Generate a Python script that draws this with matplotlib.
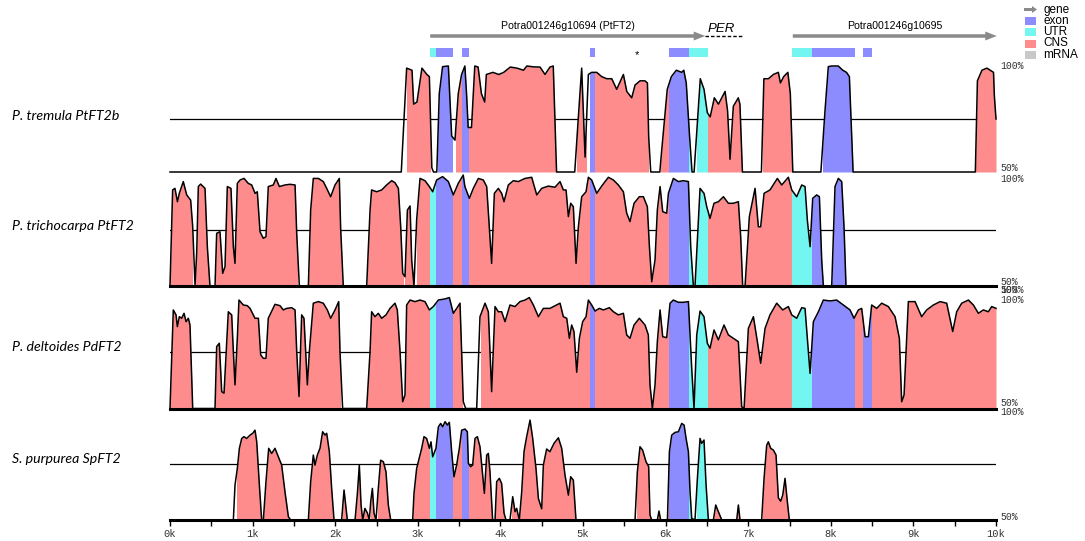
import numpy as np
import matplotlib.pyplot as plt
from matplotlib.patches import Rectangle, FancyArrow

W, H = 1085, 541

# gene model (kb)
exons = [(3.22, 3.425), (3.535, 3.62), (5.09, 5.14), (6.04, 6.28), (7.77, 8.29), (8.39, 8.50)]
utrs = [(3.15, 3.22), (6.28, 6.515), (7.53, 7.77)]
genes = [(3.15, 6.48, "Potra001246g10694 (PtFT2)"), (7.54, 10.01, "Potra001246g10695")]
per_span = (6.48, 6.93)
star_kb = 5.65

species = ["P. tremula PtFT2b", "P. trichocarpa PtFT2", "P. deltoides PdFT2", "S. purpurea SpFT2"]

# conservation profiles (kb, % identity)
tremula_profile = [
    (0.0, 50), (2.80, 50), (2.865, 99), (2.93, 98), (2.95, 82), (2.99, 83), (3.05, 99), (3.11, 96),
    (3.14, 95), (3.17, 52), (3.19, 50), (3.23, 50), (3.26, 87), (3.30, 99.7), (3.37, 100), (3.41, 67),
    (3.45, 65), (3.49, 87), (3.53, 96), (3.57, 100), (3.59, 87), (3.61, 71), (3.65, 71), (3.69, 100),
    (3.73, 99.5), (3.77, 87), (3.81, 83), (3.83, 96), (3.91, 97), (3.98, 96), (4.04, 97), (4.12, 99.5),
    (4.20, 99), (4.28, 98), (4.32, 100), (4.40, 99.6), (4.48, 99.5), (4.54, 96), (4.60, 99.5), (4.64, 100),
    (4.68, 50), (4.90, 50), (4.944, 76), (4.984, 99), (5.025, 57), (5.065, 96), (5.105, 97), (5.166, 97),
    (5.226, 95), (5.287, 94), (5.348, 94), (5.408, 89), (5.489, 96), (5.53, 88), (5.59, 85), (5.63, 91),
    (5.69, 93), (5.75, 93), (5.78, 92), (5.795, 67), (5.82, 50), (5.93, 50), (5.95, 59), (6.02, 89),
    (6.07, 95), (6.13, 98), (6.195, 97), (6.22, 98), (6.25, 92), (6.29, 67), (6.32, 50), (6.345, 50),
    (6.42, 94), (6.465, 89), (6.505, 78), (6.54, 76), (6.59, 85), (6.64, 82), (6.68, 85), (6.72, 88),
    (6.75, 79), (6.78, 56), (6.82, 81), (6.88, 85), (6.90, 82), (6.93, 50), (7.16, 50), (7.19, 94),
    (7.245, 94), (7.305, 96), (7.365, 97), (7.39, 92), (7.43, 95), (7.48, 97), (7.51, 87), (7.54, 50),
    (7.88, 50), (7.93, 79), (7.97, 99.7), (8.01, 100), (8.09, 100), (8.145, 98), (8.19, 97), (8.225, 95),
    (8.27, 50), (9.75, 50), (9.775, 93), (9.83, 98), (9.89, 99), (9.97, 97), (9.98, 86), (10.0, 75),
]
trichocarpa_profile = [
    (0.0, 50), (0.032, 92.5), (0.06, 93.2), (0.09, 87.3), (0.113, 91), (0.161, 96.2), (0.202, 90.3),
    (0.25, 88), (0.275, 76.2), (0.303, 50.4), (0.323, 64.5), (0.343, 94), (0.371, 95.1), (0.424, 93.2),
    (0.452, 67.4), (0.484, 50), (0.545, 50), (0.565, 73.3), (0.605, 74), (0.638, 55.6), (0.666, 58.5),
    (0.694, 94), (0.738, 93.2), (0.767, 67.4), (0.787, 60), (0.815, 95.4), (0.848, 96.9), (0.896, 97.6),
    (0.948, 95.4), (0.989, 94.7), (1.03, 91), (1.057, 91.7), (1.09, 74), (1.13, 71.1), (1.162, 71.8),
    (1.19, 94), (1.251, 94.7), (1.283, 97.6), (1.324, 94), (1.392, 94.7), (1.453, 95), (1.514, 94.7),
    (1.534, 73.3), (1.566, 50), (1.675, 50), (1.703, 83.6), (1.735, 97.6), (1.796, 97.6), (1.856, 96.2),
    (1.897, 93.2), (1.945, 89.5), (1.998, 94.7), (2.05, 97.6), (2.066, 75.5), (2.098, 50), (2.381, 50),
    (2.422, 83.6), (2.441, 92.5), (2.502, 91.7), (2.563, 92.5), (2.623, 94.7), (2.684, 96.6), (2.724, 95.7),
    (2.765, 93.2), (2.793, 76.2), (2.817, 55.6), (2.845, 54.1), (2.874, 83.6), (2.906, 85.4), (2.926, 61.5),
    (2.954, 50), (2.986, 79.2), (3.027, 97.6), (3.087, 96.6), (3.14, 94), (3.18, 91.7), (3.228, 96.9),
    (3.30, 98.4), (3.37, 96.2), (3.43, 90.3), (3.49, 95.4), (3.55, 99.1), (3.57, 94), (3.624, 88.8),
    (3.672, 93.2), (3.733, 97.6), (3.793, 96.9), (3.834, 94), (3.866, 76.2), (3.894, 60), (3.927, 91),
    (3.975, 93.2), (4.015, 91), (4.044, 87.3), (4.096, 94.7), (4.157, 96.6), (4.217, 96.2), (4.298, 97.6),
    (4.379, 98.1), (4.44, 90.3), (4.5, 93.2), (4.58, 94.2), (4.661, 93.7), (4.722, 96.2), (4.762, 92.5),
    (4.795, 92.5), (4.823, 80.7), (4.851, 86.6), (4.883, 85.1), (4.916, 60), (4.944, 76.2), (4.984, 89.5),
    (5.037, 91.7), (5.065, 98.1), (5.105, 96.9), (5.166, 91), (5.226, 94.2), (5.307, 98.1), (5.368, 96.9),
    (5.428, 94.7), (5.489, 91.7), (5.529, 82.2), (5.569, 78.5), (5.618, 86.6), (5.682, 89.5), (5.731, 89.5),
    (5.779, 85.1), (5.804, 67.4), (5.832, 51.9), (5.872, 61.5), (5.9, 83.6), (5.933, 94), (5.965, 82.9),
    (6.013, 82.2), (6.034, 91), (6.094, 97.6), (6.155, 96.2), (6.215, 96.6), (6.276, 96.2), (6.304, 67.4),
    (6.336, 50), (6.356, 50), (6.417, 93.2), (6.465, 91), (6.498, 85.1), (6.538, 79.9), (6.586, 86.6),
    (6.639, 87.3), (6.7, 89.5), (6.76, 86.6), (6.82, 86.6), (6.881, 87.3), (6.909, 71.8), (6.933, 50),
    (6.962, 50), (7.014, 80.7), (7.083, 93.2), (7.123, 76.2), (7.151, 76.2), (7.192, 91), (7.264, 92.5),
    (7.353, 97.6), (7.406, 94.7), (7.486, 98.1), (7.527, 92.5), (7.587, 89.5), (7.648, 94.7), (7.688, 94),
    (7.716, 79.2), (7.749, 67.4), (7.781, 88.8), (7.829, 90.3), (7.862, 89.5), (7.89, 61.5), (7.91, 50),
    (8.011, 50), (8.051, 94), (8.091, 97.6), (8.132, 96.2), (8.16, 76.2), (8.184, 50), (10.0, 50),
]
deltoides_profile = [
    (0.0, 50), (0.04, 93.8), (0.073, 91.6), (0.089, 86.4), (0.113, 90.8), (0.141, 90.1), (0.17, 92.3),
    (0.194, 88.6), (0.222, 90.1), (0.242, 87.1), (0.275, 50), (0.545, 50), (0.565, 77.5), (0.597, 79),
    (0.626, 57.5), (0.654, 56.8), (0.706, 93), (0.747, 91.6), (0.767, 75.3), (0.787, 60.5), (0.815, 81.2),
    (0.835, 98.2), (0.888, 96), (0.936, 95.7), (0.969, 94.5), (1.029, 90.1), (1.07, 90.1), (1.098, 73.8),
    (1.13, 72.3), (1.162, 72.3), (1.19, 90.1), (1.271, 96.3), (1.332, 95.7), (1.372, 93.8), (1.413, 94.5),
    (1.473, 94.8), (1.514, 93.8), (1.534, 75.3), (1.562, 55.3), (1.594, 91.6), (1.622, 90.1), (1.663, 60.5),
    (1.687, 75.3), (1.735, 96.8), (1.796, 97.5), (1.856, 96.8), (1.905, 93.8), (1.945, 90.1), (1.998, 93.8),
    (2.042, 97.5), (2.058, 75.3), (2.09, 50), (2.381, 50), (2.422, 75.3), (2.441, 93), (2.482, 90.8),
    (2.522, 92.3), (2.563, 90.1), (2.615, 91.6), (2.664, 94.5), (2.724, 96.8), (2.752, 93.8), (2.785, 75.3),
    (2.817, 53), (2.845, 56), (2.865, 96), (2.906, 98.2), (2.966, 97.5), (3.027, 98.2), (3.087, 97.5),
    (3.14, 93.8), (3.188, 95.3), (3.249, 98.2), (3.33, 98.7), (3.382, 99.3), (3.43, 92.3), (3.471, 94.5),
    (3.511, 96.8), (3.551, 53), (3.58, 50), (3.713, 50), (3.753, 90.8), (3.814, 96.8), (3.854, 93),
    (3.894, 57.5), (3.935, 95.3), (3.975, 93), (4.015, 93), (4.056, 88.6), (4.116, 96), (4.177, 95.3),
    (4.237, 97.5), (4.298, 98.2), (4.35, 99.3), (4.399, 96), (4.46, 90.8), (4.52, 94.5), (4.6, 94.5),
    (4.681, 96), (4.722, 96.8), (4.762, 90.8), (4.803, 90.1), (4.835, 81.2), (4.863, 87.1), (4.891, 84.2),
    (4.924, 66.1), (4.956, 81.2), (4.996, 88.6), (5.037, 90.8), (5.065, 98.2), (5.105, 96), (5.146, 93.3),
    (5.198, 94.5), (5.247, 93.8), (5.319, 94.8), (5.368, 93), (5.428, 91.6), (5.489, 92.3), (5.529, 82.7),
    (5.569, 81.2), (5.618, 87.1), (5.682, 90.1), (5.751, 87.1), (5.791, 82.7), (5.811, 60.5), (5.84, 50),
    (5.872, 60.5), (5.9, 79.7), (5.933, 93.8), (5.965, 81.9), (6.013, 81.5), (6.054, 96.8), (6.094, 98.2),
    (6.155, 97.2), (6.215, 97.2), (6.276, 97.5), (6.316, 67.9), (6.344, 50), (6.377, 82.7), (6.417, 93.3),
    (6.465, 90.8), (6.505, 79), (6.538, 76.8), (6.586, 84.9), (6.639, 80.5), (6.707, 87.1), (6.76, 82.7),
    (6.82, 81.2), (6.881, 79.7), (6.921, 50.8), (6.95, 50), (7.002, 85.6), (7.063, 90.8), (7.111, 79.7),
    (7.151, 70.1), (7.204, 85.6), (7.264, 91.6), (7.345, 96.8), (7.418, 93.8), (7.486, 95.3), (7.527, 91.6),
    (7.587, 90.1), (7.648, 94.8), (7.688, 94.5), (7.716, 81.2), (7.749, 65.6), (7.789, 88.6), (7.85, 93),
    (7.91, 98.2), (7.991, 97.8), (8.071, 98.2), (8.152, 96), (8.233, 93.8), (8.281, 90.1), (8.334, 93.8),
    (8.374, 94.5), (8.415, 81.9), (8.455, 81.9), (8.495, 96), (8.556, 94.5), (8.616, 96.8), (8.697, 95.3),
    (8.778, 90.8), (8.83, 81.2), (8.858, 53), (8.887, 56), (8.939, 97.5), (9.02, 97.5), (9.1, 90.8),
    (9.161, 93.8), (9.242, 96), (9.323, 97.5), (9.403, 96.8), (9.476, 84.2), (9.524, 93), (9.585, 96.8),
    (9.666, 98.2), (9.726, 96), (9.787, 92.3), (9.847, 93.8), (9.908, 93), (9.948, 95.3), (10.0, 94.5),
]
purpurea_profile = [
    (0.0, 50), (0.767, 50), (0.787, 65.6), (0.815, 73), (0.84, 82), (0.868, 86.4), (0.896, 87.2),
    (0.928, 86.4), (0.969, 87.9), (1.001, 88.7), (1.029, 90.1), (1.05, 84.9), (1.082, 65.6), (1.11, 50),
    (1.13, 50), (1.162, 67.1), (1.195, 82), (1.231, 79.7), (1.271, 82), (1.312, 78.2), (1.352, 74.5),
    (1.392, 62.6), (1.433, 51.5), (1.461, 50), (1.675, 50), (1.703, 67.1), (1.735, 79), (1.755, 74.5),
    (1.784, 79), (1.816, 82), (1.848, 89.4), (1.877, 87.9), (1.897, 88.7), (1.929, 80.5), (1.957, 64.1),
    (1.986, 50), (2.078, 50), (2.107, 63.4), (2.127, 56.7), (2.147, 50), (2.24, 50), (2.268, 61.5),
    (2.292, 74.5), (2.313, 56.7), (2.333, 50), (2.36, 55.2), (2.39, 53.1), (2.413, 50), (2.43, 58.2),
    (2.45, 64.1), (2.47, 53.1), (2.494, 50), (2.522, 64.1), (2.55, 76.7), (2.583, 76), (2.615, 71.5),
    (2.643, 56.7), (2.672, 50), (2.938, 50), (2.954, 61.9), (2.986, 73), (3.027, 79), (3.047, 82),
    (3.075, 87.2), (3.107, 86.4), (3.14, 82), (3.16, 84.9), (3.18, 78.2), (3.196, 79.7), (3.22, 82),
    (3.249, 91.6), (3.277, 93.1), (3.301, 91.6), (3.33, 93.9), (3.358, 92.4), (3.382, 93.6), (3.41, 80.5),
    (3.438, 69.3), (3.47, 74.5), (3.503, 82), (3.531, 90.1), (3.572, 90.6), (3.6, 89.4), (3.612, 75.3),
    (3.64, 73.8), (3.664, 74.5), (3.693, 86.4), (3.721, 87.2), (3.753, 82.7), (3.782, 71.5), (3.806, 61.9),
    (3.834, 79), (3.854, 79.7), (3.874, 71.5), (3.906, 50), (3.935, 50), (3.955, 67.1), (3.987, 68.6),
    (4.015, 66.3), (4.044, 53.1), (4.068, 50), (4.116, 50), (4.149, 60.4), (4.177, 53.7), (4.197, 55.2),
    (4.229, 50), (4.258, 62.6), (4.286, 80.5), (4.318, 87.2), (4.359, 94.6), (4.391, 86.4), (4.431, 73),
    (4.46, 59.6), (4.5, 55), (4.52, 74.5), (4.56, 81.7), (4.6, 80.5), (4.649, 84.2), (4.702, 86.7),
    (4.742, 82), (4.782, 70.1), (4.823, 61.1), (4.851, 69.3), (4.883, 67.8), (4.915, 50), (5.63, 50),
    (5.658, 71.5), (5.69, 82.7), (5.722, 81.2), (5.763, 76), (5.795, 73.8), (5.811, 52.2), (5.832, 50),
    (5.9, 50), (5.92, 54), (5.94, 50), (6.022, 50), (6.046, 80.5), (6.074, 87.9), (6.114, 89.1),
    (6.155, 89.4), (6.195, 93.1), (6.224, 92.4), (6.248, 86.4), (6.276, 80.5), (6.296, 62.6), (6.316, 50.7),
    (6.356, 50), (6.385, 68.6), (6.417, 86.4), (6.437, 84.2), (6.465, 85.7), (6.49, 65.6), (6.518, 50),
    (6.578, 50), (6.607, 56.7), (6.639, 53.7), (6.68, 50), (6.861, 50), (6.881, 56.7), (6.901, 50),
    (7.163, 50), (7.192, 68.6), (7.224, 83.4), (7.244, 84.9), (7.272, 82), (7.305, 81.2), (7.337, 79),
    (7.365, 59.9), (7.393, 58.4), (7.418, 61.1), (7.446, 68.6), (7.474, 58.2), (7.498, 50), (10.0, 50),
]

# conserved regions (kb) per species
tremula_cns = [(2.865, 3.145), (3.25, 3.42), (3.46, 4.66), (4.925, 5.04), (5.085, 5.79), (5.95, 6.30),
               (6.38, 6.92), (7.18, 7.54), (7.91, 8.27), (9.76, 10.0)]
trichocarpa_cns = [(0.0, 0.27), (0.32, 0.48), (0.555, 0.63), (0.645, 1.535), (1.68, 2.08), (2.38, 2.82),
                   (2.845, 2.94), (2.99, 6.93), (6.96, 7.91), (8.01, 8.19)]
deltoides_cns = [(0.0, 0.265), (0.55, 2.06), (2.38, 3.53), (3.77, 6.93), (6.955, 10.0)]
purpurea_cns = [(0.815, 1.095), (1.13, 1.45), (1.675, 1.96), (2.09, 2.15), (2.25, 2.34), (2.35, 2.41),
                (2.43, 2.48), (2.52, 2.66), (2.945, 3.91), (3.94, 4.05), (4.14, 4.2), (4.24, 4.92),
                (5.65, 5.82), (5.91, 5.94), (6.03, 6.31), (6.38, 6.51), (6.59, 6.68), (6.87, 6.90),
                (7.18, 7.50)]

EXON_C = '#8c8cff'
UTR_C = '#73f5f0'
CNS_C = '#ff8c8c'
MRNA_C = '#c8c8c8'
GENE_C = '#8a8a8a'

X0, X1 = 170, 996
SANS = 'Liberation Sans'
MONO = 'Liberation Mono'


def px_rect(left, top, right, bottom):
    return [left / W, 1 - bottom / H, (right - left) / W, (bottom - top) / H]


def color_pieces(start, end):
    """Split a conserved region by exon/UTR annotation."""
    feats = [(a, b, EXON_C) for a, b in exons] + [(a, b, UTR_C) for a, b in utrs]
    cuts = {start, end}
    for a, b, _ in feats:
        for v in (a, b):
            if start < v < end:
                cuts.add(v)
    cuts = sorted(cuts)
    out = []
    for a, b in zip(cuts[:-1], cuts[1:]):
        mid = 0.5 * (a + b)
        c = CNS_C
        for fa, fb, fc in feats:
            if fa <= mid < fb:
                c = fc
        out.append((a, b, c))
    return out


fig = plt.figure(figsize=(W / 100, H / 100), dpi=100)

# header: gene arrows and annotation boxes (y in pixels from top)
hax = fig.add_axes(px_rect(X0, 0, X1, 62))
hax.set_xlim(0, 10)
hax.set_ylim(62, 0)
hax.axis('off')
for start, end, name in genes:
    hax.add_patch(FancyArrow(start, 36, end - start, 0, width=3.5, head_width=9, head_length=0.14,
                             length_includes_head=True, color=GENE_C, lw=0, clip_on=False))
    hax.text((start + end) / 2, 26, name, ha='center', va='center', fontsize=7.6, family=SANS)
hax.plot(per_span, [36, 36], color='k', lw=1.0, dashes=(2.5, 1.5), clip_on=False)
hax.text(sum(per_span) / 2 - 0.03, 29, "PER", ha='center', va='center', fontsize=9.5,
         style='italic', family=SANS)
for a, b in utrs:
    hax.add_patch(Rectangle((a, 48), b - a, 9, color=UTR_C, lw=0))
for a, b in exons:
    hax.add_patch(Rectangle((a, 48), b - a, 9, color=EXON_C, lw=0))
hax.text(star_kb, 55, "*", ha='center', va='center', fontsize=8, family=SANS)

# legend (pixel coordinates)
lax = fig.add_axes(px_rect(1020, 0, 1085, 62))
lax.set_xlim(1020, 1085)
lax.set_ylim(62, 0)
lax.axis('off')
lax.add_patch(FancyArrow(1024, 9.5, 13, 0, width=3, head_width=7, head_length=5,
                         length_includes_head=True, color=GENE_C, lw=0))
lax.text(1043, 9.5, "gene", va='center', fontsize=8.5, family=SANS)
for yc, col, txt in [(21, EXON_C, "exon"), (32, UTR_C, "UTR"), (43.5, CNS_C, "CNS"), (55, MRNA_C, "mRNA")]:
    lax.add_patch(Rectangle((1025, yc - 4), 11, 8, color=col, lw=0))
    lax.text(1043, yc, txt, va='center', fontsize=8.5, family=SANS)

tracks = [
    (species[0], tremula_profile, tremula_cns, 66, 172, False, 116),
    (species[1], trichocarpa_profile, trichocarpa_cns, 173, 286, True, 226),
    (species[2], deltoides_profile, deltoides_cns, 296, 408.5, True, 347),
    (species[3], purpurea_profile, purpurea_cns, 408, 520, True, 459),
]

for i, (name, prof, cns, top, bot, thick, label_y) in enumerate(tracks):
    ax = fig.add_axes(px_rect(X0, top, X1, bot))
    ax.patch.set_alpha(0)
    x, y = np.array(prof).T
    ax.set_xlim(0, 10)
    ax.set_ylim(50, 100)
    ax.axhline(75, color='k', lw=0.9, zorder=1)
    for start, end in cns:
        for a, b, c in color_pieces(start, end):
            poly = ax.fill_between(x, 50, y, color=c, lw=0, zorder=2)
            poly.set_clip_path(Rectangle((a, 50), b - a, 51, transform=ax.transData))
    ax.plot(x, y, color='k', lw=1.1, zorder=3, clip_on=False)
    if thick:
        ax.axhline(50, color='k', lw=2.2, zorder=4, clip_on=False)
    for s in ax.spines.values():
        s.set_visible(False)
    ax.set_yticks([])
    if i == len(tracks) - 1:
        ax.set_xticks(range(11))
        ax.set_xticklabels([f"{k}k" for k in range(11)], family=MONO)
        ax.set_xticks(np.arange(0.5, 10, 1), minor=True)
        ax.tick_params(axis='x', which='both', direction='out', length=4, width=1.0, pad=2.5,
                       labelsize=7.5, labelcolor='#333333')
    else:
        ax.set_xticks([])
    fig.text(12 / W, 1 - label_y / H, name, style='italic', family='Lato', fontsize=10.2,
             va='center', ha='left')

# percent labels on the right
for yp, txt in [(66, '100%'), (168, '50%'), (179, '100%'), (282, '50%'), (290, '50%'), (290, '100%'),
                (300, '100%'), (403, '50%'), (412, '100%'), (517, '50%')]:
    fig.text(1000 / W, 1 - yp / H, txt, family=MONO, fontsize=7, color='#333333', va='center', ha='left')

fig.savefig('out.png', dpi=100)
